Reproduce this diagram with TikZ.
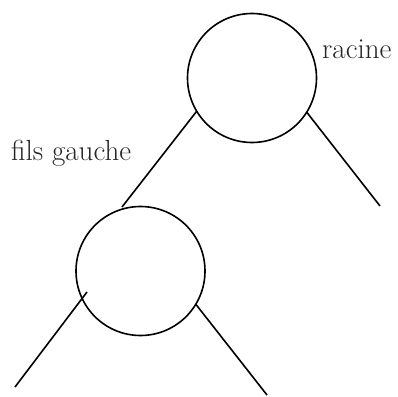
\documentclass[tikz,border=0pt]{standalone}
\begin{document}
\begin{tikzpicture}[x=1pt,y=-1pt,
  treenode/.style={draw, circle, line width=1.6pt, inner sep=0pt, outer sep=0pt, minimum size=129pt},
  edge/.style={line width=1.6pt},
  lbl/.style={inner sep=0pt, font=\fontsize{29}{33}\selectfont, text=black!85}]
\useasboundingbox (0,0) rectangle (398,396);
\node[treenode] (root) at (252,78) {};
\node[treenode] (left) at (140.5,271) {};
\coordinate (lt) at (122,207);
\coordinate (rr) at (380,206);
\coordinate (lstart) at (87,292);
\coordinate (ll) at (15,387);
\coordinate (lr) at (267,395);
\draw[edge] (root.211) -- (lt);
\draw[edge] (root.-32) -- (rr);
\draw[edge] (lstart) -- (ll);
\draw[edge] (left.-31) -- (lr);
\node[lbl, anchor=base west] (racine) at (322,58) {racine};
\node[lbl, anchor=base west] (fils) at (11,160) {fils gauche};
\end{tikzpicture}
\end{document}
